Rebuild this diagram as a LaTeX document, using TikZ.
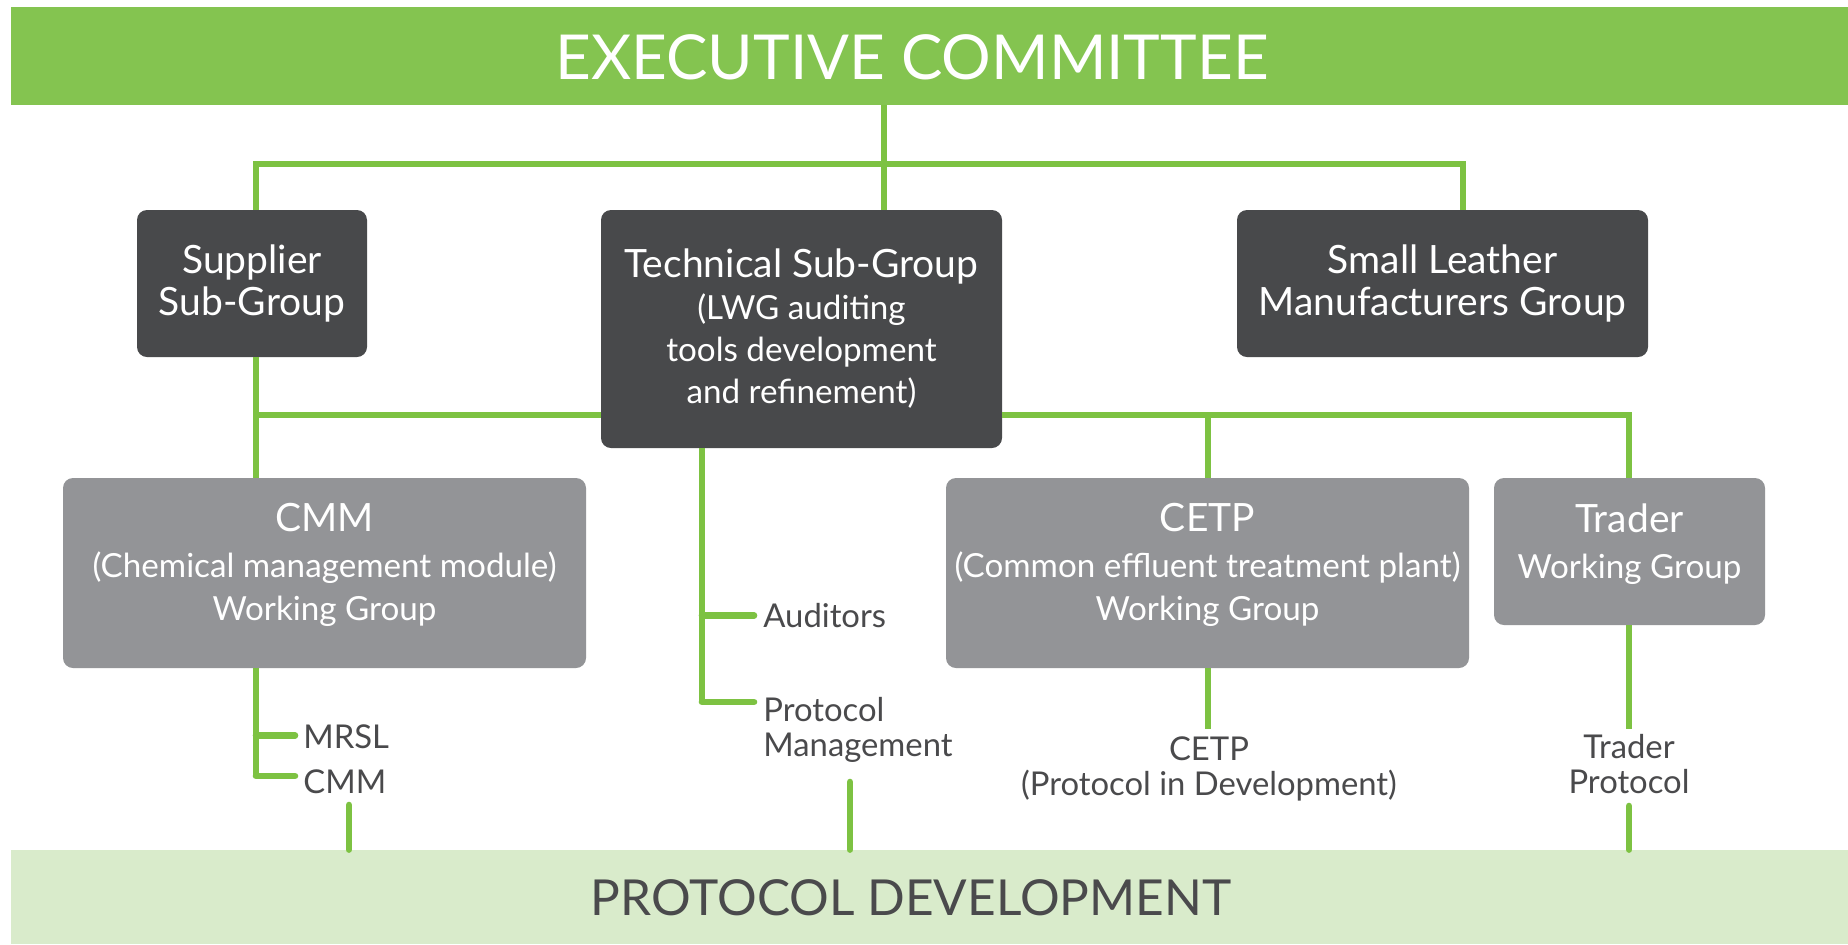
\documentclass[tikz,border=0pt]{standalone}
\usepackage{fontspec}
\setmainfont{Lato}
\definecolor{lwggreen}{HTML}{84C450}
\definecolor{lwgline}{HTML}{7DC242}
\definecolor{darkbox}{HTML}{48494B}
\definecolor{graybox}{HTML}{939497}
\definecolor{paleg}{HTML}{D9EBCB}
\definecolor{labeltext}{HTML}{4A4A4C}
\newcommand\bigtxt{\fontsize{19.5}{21}\selectfont}
\newcommand\medtxt{\fontsize{16.6}{21.5}\selectfont}
\newcommand\labtxt{\fontsize{16.4}{17.5}\selectfont}
\newcommand\liftup[1]{\rule[-#1]{0pt}{#1}}
\tikzset{
  band/.style={inner sep=0pt, anchor=center},
  boxbase/.style={rounded corners=5pt, text=white, align=center, inner sep=0pt},
  darkb/.style={boxbase, fill=darkbox, font=\bigtxt},
  grayb/.style={boxbase, fill=graybox, font=\medtxt},
  lab/.style={text=labeltext, font=\labtxt, inner sep=0pt},
  conn/.style={draw=lwgline, line width=3pt},
  stub/.style={draw=lwgline, line width=3.3pt, line cap=round},
}
\begin{document}
\begin{tikzpicture}[x=0.5pt,y=-0.5pt]
\useasboundingbox[fill=white] (0,0) rectangle (1848,944);
% bands
\node[band, fill=lwggreen, minimum width=918.5pt, minimum height=49pt] (exec) at (929.5,56) {};
\node[text=white, inner sep=0pt, font=\fontsize{31}{34}\selectfont] (exectitle) at (912,57) {EXECUTIVE COMMITTEE};
\node[band, fill=paleg, minimum width=918.5pt, minimum height=47pt] (prot) at (929.5,897) {};
\node[text=labeltext, inner sep=0pt, font=\fontsize{24.8}{28}\selectfont] (prottitle) at (911,898) {PROTOCOL DEVELOPMENT};
% boxes
\node[darkb, minimum width=115pt, minimum height=73.5pt] (supp) at (252,283.5) {Supplier\\Sub-Group};
\node[darkb, minimum width=200.5pt, minimum height=119pt] (tech) at (801.5,329) {Technical Sub-Group\\{\medtxt (LWG auditing}\\{\medtxt tools development}\\{\medtxt and refinement)}};
\node[darkb, minimum width=205.5pt, minimum height=73.5pt] (slm) at (1442.5,283.5) {Small Leather\\Manufacturers Group};
\node[grayb, minimum width=261.5pt, minimum height=95pt] (cmm) at (324.5,573) {{\bigtxt CMM}\\[1.5pt](Chemical management module)\\Working Group\liftup{11pt}};
\node[grayb, minimum width=261.5pt, minimum height=95pt] (cetp) at (1207.5,573) {{\bigtxt CETP}\\[1.5pt](Common effluent treatment plant)\\Working Group\liftup{11pt}};
\node[grayb, minimum width=135.5pt, minimum height=73.5pt] (trader) at (1629.5,551.5) {{\bigtxt Trader}\\[1.5pt]Working Group\liftup{10.5pt}};
% labels
\node[lab, anchor=base west] (aud) at (763,627) {Auditors};
\node[lab, anchor=west, align=left] (pm) at (763,729.5) {Protocol\\Management};
\node[lab, anchor=base west] (mrsl) at (303,748) {MRSL};
\node[lab, anchor=base west] (cmml) at (303,793) {CMM};
\node[lab, align=center] (cetpl) at (1209,769) {CETP\\(Protocol in Development)};
\node[lab, align=center] (tradl) at (1629,764) {Trader\\Protocol};
% junction coordinates
\coordinate (j1) at (884,164);
\coordinate (jl) at (256,164);
\coordinate (jr) at (1463,164);
\coordinate (k1) at (256,415);
\coordinate (kc) at (1208,415);
\coordinate (kr) at (1629,415);
\coordinate (tx) at (702,0);
\coordinate (tb) at (702,702);
\coordinate (cb) at (256,776);
\coordinate (s1) at (349,805);
\coordinate (s2) at (850,782);
\coordinate (s3) at (1629,806);
\coordinate (e1) at (1208,729);
\coordinate (e2) at (1629,729);
% connectors
\draw[conn] (exec.south -| j1) -- (tech.north -| j1);
\draw[conn] (supp.north -| jl) -- (jl) -- (jr) -- (slm.north -| jr);
\draw[conn] (supp.south -| k1) -- (cmm.north -| k1);
\draw[conn] (k1) -- (tech.west |- k1);
\draw[conn] (tech.east |- kr) -- (kr) -- (trader.north -| kr);
\draw[conn] (kc) -- (cetp.north -| kc);
\draw[conn] (tech.south -| tx) -- (tb);
\draw[stub] (tb) -- ([xshift=-4.5pt]pm.west |- tb);
\draw[stub] (tech.south -| tx) ++(0,167) coordinate (ta) -- ([xshift=-4.5pt]aud.west |- ta);
\draw[conn] (cmm.south -| cb) -- (cb);
\draw[stub] (cb) -- ([xshift=-4pt]cmml.west |- cb);
\draw[stub] (cmm.south -| cb) ++(0,67) coordinate (cm) -- ([xshift=-4pt]mrsl.west |- cm);
\draw[conn] (cetp.south -| e1) -- (e1);
\draw[conn] (trader.south -| e2) -- (e2);
\draw[stub] (s1) -- (prot.north -| s1);
\draw[stub] (s2) -- (prot.north -| s2);
\draw[stub] (s3) -- (prot.north -| s3);
\end{tikzpicture}
\end{document}
